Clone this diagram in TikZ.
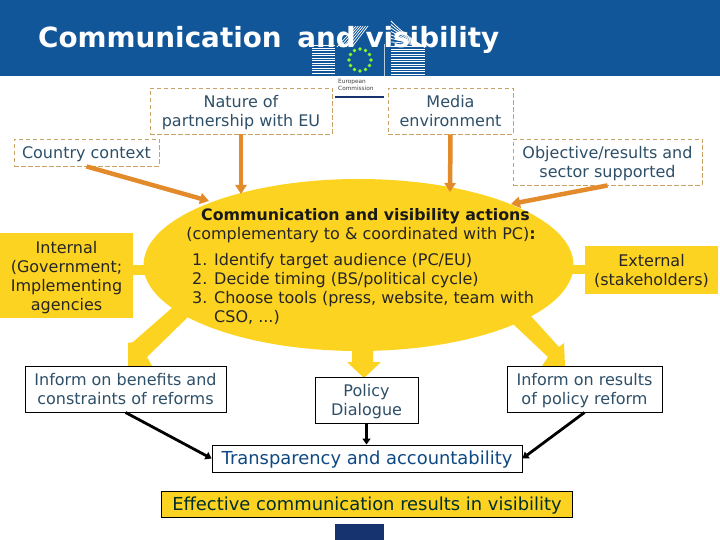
\documentclass[tikz,border=0pt]{standalone}
\usepackage{fontspec}
\setmainfont{DejaVu Sans}
\usetikzlibrary{arrows.meta,shapes.geometric}
\definecolor{hdr}{HTML}{12569A}
\definecolor{ylw}{HTML}{FDD321}
\definecolor{org}{HTML}{E38A2B}
\definecolor{dsh}{HTML}{C8A266}
\definecolor{txt}{HTML}{2E4F68}
\definecolor{navy}{HTML}{17336F}
\newcommand{\linestrut}{\rule[-4pt]{0pt}{20.5pt}}
\tikzset{
  body/.style={font=\fontsize{16}{19}\selectfont,align=center,inner sep=0pt},
  lowered/.style={execute at end node={\linestrut}},
  dashbox/.style={body,lowered,draw=dsh,dash pattern=on 4.5pt off 2.5pt,line width=0.9pt,text=txt},
  solidbox/.style={body,lowered,draw=black,line width=0.9pt,fill=white,text=txt},
  yellowbox/.style={body,lowered,fill=ylw,text=black!85},
  orangearrow/.style={draw=org,line width=4.5pt,-{Triangle[length=9pt,width=11pt]}},
  blackarrow/.style={draw=black,line width=2.8pt,-{Triangle[length=6pt,width=8pt]}},
  fatarrow/.style={fill=ylw},
  plain/.style={body,anchor=base west,text=black!85},
}
\newcommand{\numitem}[1]{\makebox[22pt][l]{#1}}
\begin{document}
\begin{tikzpicture}[x=1pt,y=-1pt]
\useasboundingbox (0,0) rectangle (720,540);
% header
\fill[hdr] (0,0) rectangle (720,76);
% logo
\fill[hdr] (335,47) rectangle (384,94);
\fill[white] (335,76) rectangle (384,96);
\fill[navy] (335,96) rectangle (384,98.5);
\draw[white!70!hdr,line width=0.6pt] (384.5,44) -- (384.5,76);
\foreach \yy in {46,48.5,...,74.5} \draw[white,line width=1pt] (312,\yy) -- (335,\yy);
\foreach \yy in {47,49.5,...,75} \draw[white,line width=1pt] (391,\yy) -- (425,\yy);
\foreach \dd in {0,3,...,15} \draw[white,line width=0.7pt] (337+\dd,47) -- (356+\dd*0.8,26);
\foreach \dd in {0,3.5,...,24} \draw[white,line width=0.8pt] (391,21+\dd) .. controls (402,32+\dd*0.5) and (412,40+\dd*0.2) .. (425,47);
\foreach \aa in {0,30,...,330} \fill[green!55!yellow!85!white] ({360+11*cos(\aa)},{60+11*sin(\aa)}) circle (1.8);
\node[font=\fontsize{5.8}{7.5}\selectfont,align=left,inner sep=0pt,anchor=north west,text=black!75] (eclabel) at (338,79) {European\\Commission};
\node[font=\bfseries\fontsize{27.8}{30}\selectfont,text=white,anchor=base west,inner sep=0pt] (title) at (38,48) {Communication\hspace{6pt} and visibility};
% ellipse and links
\fill[fatarrow] (133,265) rectangle (150,275);
\fill[fatarrow] (568,265) rectangle (585,274);
\fill[fatarrow] (173,307) -- (133,342) -- (128,343) -- (128,366) -- (152,366) -- (147,357) -- (188,317) -- cycle;
\fill[fatarrow] (352,345) -- (352,362) -- (347,362) -- (364,378) -- (381,362) -- (373,362) -- (373,345) -- cycle;
\fill[fatarrow] (513,324) -- (530,315) -- (559,347) -- (564,343) -- (565,366) -- (542,366) -- (548,357) -- cycle;
\node[fatarrow,draw=none,ellipse,minimum width=430pt,minimum height=172pt,inner sep=0pt] (core) at (358.5,265) {};
% boxes
\node[dashbox,minimum width=182pt,minimum height=46pt] (nature) at (241,111) {\linestrut Nature of\\partnership with EU};
\node[dashbox,minimum width=125pt,minimum height=46pt] (media) at (450.5,111) {\linestrut Media\\environment};
\node[dashbox,minimum width=145pt,minimum height=27pt] (country) at (86.5,152.5) {\linestrut Country context};
\node[dashbox,minimum width=189pt,minimum height=46pt] (objective) at (607.5,162) {\linestrut Objective/results and\\sector supported};
\node[yellowbox,minimum width=133pt,minimum height=85pt] (internal) at (66.5,275.5) {\linestrut Internal\\(Government;\\Implementing\\agencies};
\node[yellowbox,minimum width=133pt,minimum height=48pt] (external) at (651.5,270) {\linestrut External\\(stakeholders)};
\node[solidbox,minimum width=201pt,minimum height=46pt] (inform1) at (125.5,389) {\linestrut Inform on benefits and\\constraints of reforms};
\node[solidbox,minimum width=103pt,minimum height=46pt] (policy) at (366.5,400) {\linestrut Policy\\Dialogue};
\node[solidbox,minimum width=155pt,minimum height=46pt] (inform2) at (584.5,389) {\linestrut Inform on results\\of policy reform};
\node[solidbox,minimum width=310pt,minimum height=27pt,text=hdr!85!black,font=\fontsize{17.9}{19}\selectfont] (trans) at (367,458.5) {\linestrut Transparency and accountability};
\node[body,lowered,draw=black,line width=0.9pt,fill=ylw,text=black!65!teal,minimum width=411pt,minimum height=25.5pt,font=\fontsize{17.9}{19}\selectfont] (effective) at (367,504.5) {\linestrut Effective communication results in visibility};
\fill[navy] (335,524) rectangle (384,540);
% ellipse text
\node[body,font=\fontsize{15.8}{19}\selectfont\bfseries,anchor=base,text=black!90] (head) at (365.5,220.5) {Communication and visibility actions};
\node[body,anchor=base,text=black!85] (sub) at (361,240) {(complementary to \& coordinated with PC)\textbf{:}};
\node[plain] (n1) at (192,265.5) {\numitem{1.}Identify target audience (PC/EU)};
\node[plain] (n2) at (192,284.5) {\numitem{2.}Decide timing (BS/political cycle)};
\node[plain] (n3) at (192,303.5) {\numitem{3.}Choose tools (press, website, team with};
\node[plain] (n4) at (214,322.5) {CSO, ...)};
% connector ends
\coordinate (e1) at (241,194);
\coordinate (e2) at (450,192);
\coordinate (e3) at (209,201);
\coordinate (e4) at (511,204);
\draw[orangearrow] (nature.south) -- (e1);
\draw[orangearrow] (media.south) -- (e2);
\draw[orangearrow] (country.south) -- (e3);
\draw[orangearrow] (objective.south) -- (e4);
\draw[blackarrow] (inform1.south) -- (trans.west);
\draw[blackarrow] (policy.south) -- (policy.south |- trans.north);
\draw[blackarrow] (inform2.south) -- (trans.east);
\end{tikzpicture}
\end{document}
